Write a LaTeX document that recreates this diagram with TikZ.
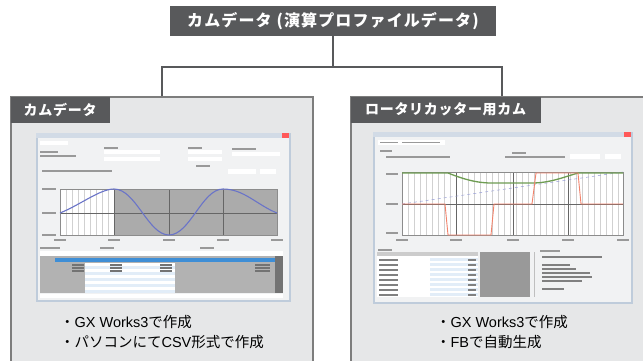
\documentclass[tikz,border=0pt]{standalone}
\usepackage{fontspec}
\newfontfamily\jp{Noto Sans CJK JP}
\newfontfamily\lat{Liberation Sans}
\newcommand{\en}[1]{{\lat #1}}
\usetikzlibrary{positioning,calc}

\definecolor{hdr}{HTML}{58595B}
\definecolor{pnl}{HTML}{E6E7E8}
\definecolor{edge}{HTML}{7D7D7D}
\definecolor{win}{HTML}{F1F2F3}
\definecolor{frm}{HTML}{BFCCDB}
\definecolor{plotgray}{HTML}{ABABAB}
\definecolor{selblue}{HTML}{3E8ED6}
\definecolor{cellblue}{HTML}{E2EDF8}
\definecolor{camblue}{HTML}{6A74C8}
\definecolor{camgreen}{HTML}{6E9C52}
\definecolor{camred}{HTML}{F2826A}

\begin{document}
\begin{tikzpicture}[x=1pt,y=-1pt,
   every node/.style={font=\jp},
   title/.style={fill=hdr,text=white,inner sep=0pt,minimum width=326pt,minimum height=30pt,
                 font=\jp\bfseries\fontsize{16}{18}\selectfont\addfontfeature{LetterSpace=7}},
   panel/.style={draw=edge,line width=1.2pt,fill=pnl,inner sep=0pt,
                 minimum width=302pt,minimum height=273pt},
   tab/.style={fill=hdr,text=white,inner sep=0pt,minimum height=26pt,anchor=north west,
               font=\jp\bfseries\fontsize{14}{16}\selectfont\addfontfeature{LetterSpace=5}},
   shot/.style={draw=frm,line width=1.5pt,fill=win,inner sep=0pt,anchor=north west},
   notes/.style={align=left,inner sep=0pt,font=\jp\fontsize{14.5}{20}\selectfont},
   ln/.style={draw=hdr,line width=2pt},
   txt/.style={fill=black!40},
   gridln/.style={draw=black!18,line width=0.3pt},
   axln/.style={draw=black!60,line width=0.8pt}
]
\useasboundingbox (0,0) rectangle (643,360);

\node[title] (T) at (333,21) {カムデータ (演算プロファイルデータ)};
\node[panel] (L) at (162,233.5) {};
\node[panel] (R) at (502,233.5) {};
\coordinate (bus) at (333,67);
\draw[ln] (T.south) -- (T.south |- bus);
\draw[ln] (L.north) |- (bus) -| (R.north);

\node[tab,minimum width=99pt] (LT) at (L.north west) {カムデータ};
\node[tab,minimum width=190pt] (RT) at (R.north west) {ロータリカッター用カム};

% left screenshot: cam data editor
\node[shot,minimum width=253pt,minimum height=167pt] (LS) at (36,133) {};
\fill[frm!70] (36,133) rectangle (289,138);
\fill[red!65] (282,133) rectangle (289,138);
\fill[white] (40,141) rectangle (68,145);
\fill[white] (104,150) rectangle (160,154);
\fill[white] (104,157) rectangle (160,161);
\fill[white] (188,150) rectangle (222,154);
\fill[white] (188,157) rectangle (222,161);
\fill[white] (232,152) rectangle (280,156);
\fill[txt] (40,151) rectangle (58,152.5);
\fill[txt] (40,155) rectangle (76,156.5);
\fill[txt] (104,147) rectangle (118,148.5);
\fill[txt] (188,147) rectangle (202,148.5);
\fill[txt] (232,148) rectangle (256,149.5);
\fill[txt] (42,170) rectangle (112,171.5);
\fill[white] (228,169) rectangle (256,174);
\fill[white] (260,169) rectangle (276,174);
\fill[txt] (196,165) rectangle (210,166.5);
% chart
\fill[white] (60,189) rectangle (114,235);
\fill[plotgray] (114,189) rectangle (277,235);
\foreach \x in {66,72,...,108} \draw[gridln] (\x,189) -- (\x,235);
\draw[axln] (60,213) -- (277,213);
\foreach \x in {114,169,223} \draw[axln] (\x,189) -- (\x,235);
\draw[black!45,line width=0.6pt] (60,189) rectangle (277,235);
\draw[camblue,line width=1.1pt] (60,213) .. controls (80,205) and (100,189) .. (114,189)
   .. controls (136,189) and (148,235) .. (169,235) .. controls (190,235) and (202,189) .. (223,189)
   .. controls (244,189) and (257,205) .. (277,213);
\foreach \x in {60,114,169,223,277} \fill[txt] (\x-6,239) rectangle (\x+6,240.5);
\foreach \y in {189,213,235} \fill[txt] (42,\y-0.8) rectangle (56,\y+0.8);
% table
\fill[txt] (40,247) rectangle (60,248.5);
\fill[txt] (100,247) rectangle (114,248.5);
\fill[txt] (200,247) rectangle (214,248.5);
\fill[white] (40,251) rectangle (283,256);
\fill[black!30] (40,256) rectangle (283,293);
\fill[white] (85,263) rectangle (175,293);
\foreach \y in {266,272,...,290} \fill[cellblue] (85,\y) rectangle (175,\y+3);
\fill[selblue] (55,258) rectangle (275,262);
\fill[black!55] (275,256) rectangle (283,293);
\foreach \y in {264,267,270} {
  \fill[black!55] (72,\y) rectangle (84,\y+1.5);
  \fill[black!55] (110,\y) rectangle (122,\y+1.5);
  \fill[black!55] (160,\y) rectangle (172,\y+1.5);
  \fill[black!55] (255,\y) rectangle (270,\y+1.5);
}
\fill[white] (40,294) rectangle (283,298);

% right screenshot: rotary cutter cam
\node[shot,minimum width=258pt,minimum height=170pt] (RS) at (373,132) {};
\fill[frm!70] (373,132) rectangle (631,137);
\fill[red!65] (624,132) rectangle (631,137);
\fill[white] (378,140) rectangle (445,145);
\fill[txt] (380,141.5) rectangle (398,143);
\fill[txt] (402,141.5) rectangle (440,143);
\fill[txt] (380,150) rectangle (392,151.5);
\fill[txt] (386,156) rectangle (450,157.5);
\fill[txt] (512,152) rectangle (526,153.5);
\fill[txt] (505,156) rectangle (565,157.5);
\fill[white] (570,154) rectangle (600,159);
\fill[white] (605,154) rectangle (621,159);
% chart
\fill[white] (402,172) rectangle (623,235);
\foreach \x in {408,414,...,620} \draw[gridln] (\x,172) -- (\x,235);
\draw[axln] (402,204) -- (623,204);
\foreach \x in {456,513,568} \draw[axln] (\x,172) -- (\x,235);
\draw[black!45,line width=0.6pt] (402,172) rectangle (623,235);
\draw[camblue!70,dashed,line width=0.5pt] (402,204) -- (623,172);
\draw[camgreen,line width=1.3pt] (402,173) -- (448,173) .. controls (468,181) and (480,183) .. (492,183)
   -- (532,183) .. controls (550,183) and (564,177) .. (578,173) -- (623,173);
\draw[camred,line width=0.9pt] (402,204) -- (445,204) -- (448,235) -- (491,235) -- (494,204)
   -- (532,204) -- (536,173) -- (578,173) -- (581,204) -- (623,204);
\foreach \x in {402,456,513,568,623} \fill[txt] (\x-6,239) rectangle (\x+6,240.5);
\foreach \y in {174,204,233} \fill[txt] (386,\y-0.8) rectangle (398,\y+0.8);
% parameter table
\fill[txt] (378,249) rectangle (392,250.5);
\fill[white] (377,252) rectangle (478,297);
\fill[black!20] (377,252) rectangle (478,256);
\foreach \y in {260,265,...,295} {
  \fill[cellblue] (430,\y-2) rectangle (478,\y+1);
  \fill[black!50] (379,\y-1) rectangle (398,\y+0.5);
  \fill[black!50] (468,\y-1) rectangle (476,\y+0.5);
}
\fill[black!40] (480,252) rectangle (530,297);
\draw[black!25,line width=1pt] (534,252) -- (534,297);
\fill[txt] (540,250) rectangle (560,251.5);
\foreach \y/\w in {256/60,264/28,268/34,272/48,276/50,280/40,288/22}
  \fill[black!50] (542,\y) rectangle (542+\w,\y+1.8);

% notes below the screenshots
\node[notes] (LN) at (162,332) {・\en{GX Works3}で作成\\・パソコンにて\en{CSV}形式で作成};
\node[notes] (RN) at (502,332) {・\en{GX Works3}で作成\\・\en{FB}で自動生成};

\end{tikzpicture}
\end{document}
